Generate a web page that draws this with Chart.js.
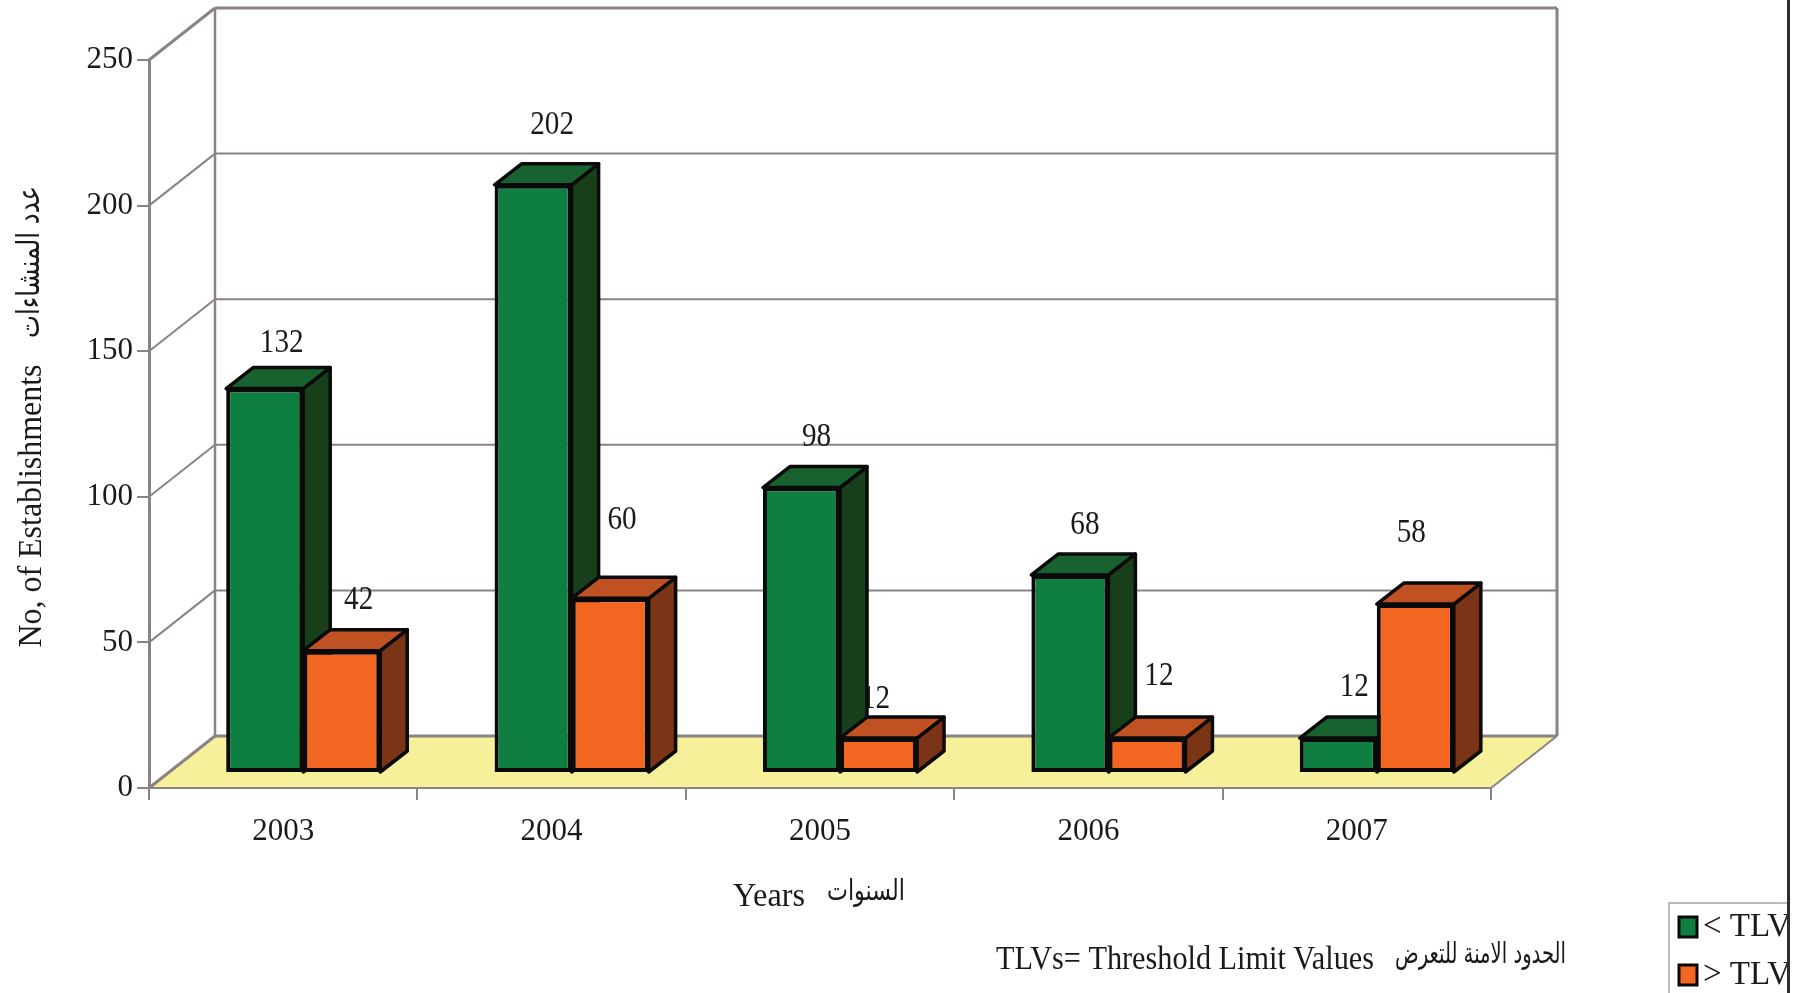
<!DOCTYPE html>
<html>
<head>
<meta charset="utf-8">
<title>TLV chart</title>
<script src="https://cdn.jsdelivr.net/npm/chart.js@4"></script>
<style>
html, body { margin: 0; padding: 0; background: #fff; }
canvas { display: block; }
</style>
</head>
<body>
<canvas id="chart" width="1796" height="993"></canvas>
<script>
// values
var years = ["2003", "2004", "2005", "2006", "2007"];
var belowTlv = [132, 202, 98, 68, 12];
var aboveTlv = [42, 60, 12, 12, 58];
var yTicks = [0, 50, 100, 150, 200, 250];

var serif = '"Liberation Serif", "DejaVu Sans", serif';
var arabic = '"DejaVu Sans", sans-serif';
var gridGrey = "#8b8382";
var ink = "#1a1a1a";

// the fake 3d: how far the wall sits behind the axes, and the bars' own depth
var wall = { dx: 66, dy: -52 };
var floorShift = { x: 20, y: -15 };
var barDepth = { dx: 27, dy: -21 };

// labels do not sit at a fixed distance from the bars in the original
var labelNudge = [
    [[17, -46], [19, -60], [15, -51], [15, -50], [16, -51]],
    [[17, -51], [12, -78], [-3, -39], [12, -62], [-4, -71]]
];
var faces = [
    { top: "#17622f", side: "#173f1a" },
    { top: "#bf5122", side: "#7b3416" }
];

function poly(ctx, pts, fill, stroke) {
    ctx.beginPath();
    ctx.moveTo(pts[0][0], pts[0][1]);
    for (var i = 1; i < pts.length; i++) ctx.lineTo(pts[i][0], pts[i][1]);
    ctx.closePath();
    ctx.fillStyle = fill;
    ctx.fill();
    if (stroke) {
        ctx.strokeStyle = stroke;
        ctx.lineWidth = 3.5;
        ctx.lineJoin = "round";
        ctx.stroke();
    }
}

function line(ctx, x1, y1, x2, y2, w) {
    ctx.beginPath();
    ctx.moveTo(x1, y1);
    ctx.lineTo(x2, y2);
    ctx.strokeStyle = gridGrey;
    ctx.lineWidth = w;
    ctx.stroke();
}

function text(ctx, str, font, x, y, maxW) {
    ctx.font = font;
    ctx.fillText(str, x, y, maxW);
}

var scene = {
    id: "scene",
    // floor, back wall and the gridlines that live on it
    beforeDraw: function(chart) {
        var ctx = chart.ctx, a = chart.chartArea, y = chart.scales.y;
        var bx = a.left + wall.dx, rx = a.right + wall.dx;
        var floorY = y.getPixelForValue(0) + wall.dy;
        ctx.save();
        ctx.fillStyle = "#fff";
        ctx.fillRect(0, 0, chart.width, chart.height);
        poly(ctx, [[a.left, a.bottom], [a.right, a.bottom], [rx, floorY], [bx, floorY]], "#f7f09b");
        yTicks.forEach(function(v) {
            var py = y.getPixelForValue(v);
            var w = (v === 0 || v === 250) ? 3 : 2;
            line(ctx, a.left, py, bx, py + wall.dy, w);
            line(ctx, bx, py + wall.dy, rx, py + wall.dy, w);
        });
        line(ctx, bx, a.top + wall.dy, bx, floorY, 2.5);
        line(ctx, rx, a.top + wall.dy, rx, floorY, 3);
        line(ctx, a.right, a.bottom, rx, floorY, 2);
        ctx.restore();
    },
    // chart.js paints the left dataset last, these boxes need it the other way
    // round, so the bars get drawn from here and the default pass is cancelled
    beforeDatasetsDraw: function(chart) {
        var ctx = chart.ctx;
        ctx.save();
        ctx.translate(floorShift.x, floorShift.y);

        // numbers go under the bars, the 2005 "12" is half hidden by the green side
        ctx.fillStyle = ink;
        ctx.textAlign = "center";
        ctx.textBaseline = "middle";
        chart.data.datasets.forEach(function(ds, d) {
            chart.getDatasetMeta(d).data.forEach(function(bar, i) {
                var str = String(ds.data[i]);
                text(ctx, str, "34px " + serif, bar.x + labelNudge[d][i][0], bar.y + labelNudge[d][i][1], str.length * 14.6);
            });
        });

        chart.data.datasets.forEach(function(ds, d) {
            var meta = chart.getDatasetMeta(d), f = faces[d];
            meta.data.forEach(function(bar) {
                var l = bar.x - bar.width / 2, r = bar.x + bar.width / 2;
                var dx = barDepth.dx, dy = barDepth.dy;
                poly(ctx, [[r, bar.y], [r + dx, bar.y + dy], [r + dx, bar.base + dy], [r, bar.base]], f.side, "#0a0a0a");
                poly(ctx, [[l, bar.y], [r, bar.y], [r + dx, bar.y + dy], [l + dx, bar.y + dy]], f.top, "#0a0a0a");
            });
            meta.controller.draw();
        });
        ctx.restore();
        return false;
    },
    // everything that sits outside the axes
    afterDraw: function(chart) {
        var ctx = chart.ctx;
        ctx.save();
        ctx.fillStyle = ink;
        ctx.textBaseline = "middle";
        ctx.textAlign = "left";

        text(ctx, "Years", "33px " + serif, 733, 897, 72);
        text(ctx, "السنوات", "29px " + arabic, 827, 892, 78);

        text(ctx, "TLVs= Threshold Limit Values", "33px " + serif, 996, 960, 378);
        text(ctx, "الحدود الامنة للتعرض", "29px " + arabic, 1395, 955, 171);

        ctx.save();
        ctx.translate(32, 0);
        ctx.rotate(-Math.PI / 2);
        ctx.textAlign = "center";
        text(ctx, "No, of Establishments", "33px " + serif, -506, 0, 283);
        text(ctx, "عدد المنشاءات", "31px " + arabic, -262, -1, 152);
        ctx.restore();

        // legend, cut off by the black page edge like the original
        ctx.strokeStyle = "#a8a4a3";
        ctx.lineWidth = 1.5;
        ctx.strokeRect(1669, 903, 140, 120);
        ctx.fillStyle = "#fff";
        ctx.fillRect(1788, 0, 8, 993);
        chart.data.datasets.forEach(function(ds, d) {
            var top = 917 + d * 48;
            ctx.fillStyle = ds.backgroundColor;
            ctx.fillRect(1679, top, 18, 20);
            ctx.strokeStyle = "#0a0a0a";
            ctx.lineWidth = 3;
            ctx.strokeRect(1679, top, 18, 20);
            ctx.fillStyle = ink;
            ctx.save();
            ctx.beginPath();
            ctx.rect(1600, top - 15, 187, 50);
            ctx.clip();
            text(ctx, ds.label, "33px " + serif, 1703, top + 10);
            ctx.restore();
        });

        ctx.fillStyle = "#2b2f2d";
        ctx.fillRect(1787, 0, 3, 993);
        ctx.restore();
    }
};

new Chart(document.getElementById("chart"), {
    type: "bar",
    plugins: [scene],
    data: {
        labels: years,
        datasets: [{
            label: "< TLV",
            data: belowTlv,
            backgroundColor: "#0e7f41",
            borderColor: "#0a0a0a",
            borderWidth: 4,
            borderSkipped: false
        }, {
            label: "> TLV",
            data: aboveTlv,
            backgroundColor: "#f36621",
            borderColor: "#0a0a0a",
            borderWidth: 4,
            borderSkipped: false
        }]
    },
    options: {
        responsive: false,
        animation: false,
        devicePixelRatio: 1,
        categoryPercentage: 0.574,
        barPercentage: 1,
        layout: { padding: { left: 0, top: 60, right: 305, bottom: 0 } },
        plugins: { legend: { display: false }, tooltip: { enabled: false } },
        scales: {
            x: {
                afterFit: function(scale) { scale.height = 205; },
                grid: { drawOnChartArea: false, color: gridGrey, lineWidth: 2, tickLength: 12 },
                border: { color: gridGrey, width: 2 },
                ticks: { color: ink, font: { family: serif, size: 31 }, padding: 13, maxRotation: 0 }
            },
            y: {
                min: 0,
                max: 250,
                afterFit: function(scale) { scale.width = 149; },
                afterBuildTicks: function(scale) {
                    scale.ticks = yTicks.map(function(v) { return { value: v }; });
                },
                grid: { drawOnChartArea: false, color: gridGrey, lineWidth: 2, tickLength: 12 },
                border: { color: gridGrey, width: 3 },
                ticks: { color: ink, font: { family: serif, size: 31 }, padding: 4 }
            }
        }
    }
});
</script>
</body>
</html>
